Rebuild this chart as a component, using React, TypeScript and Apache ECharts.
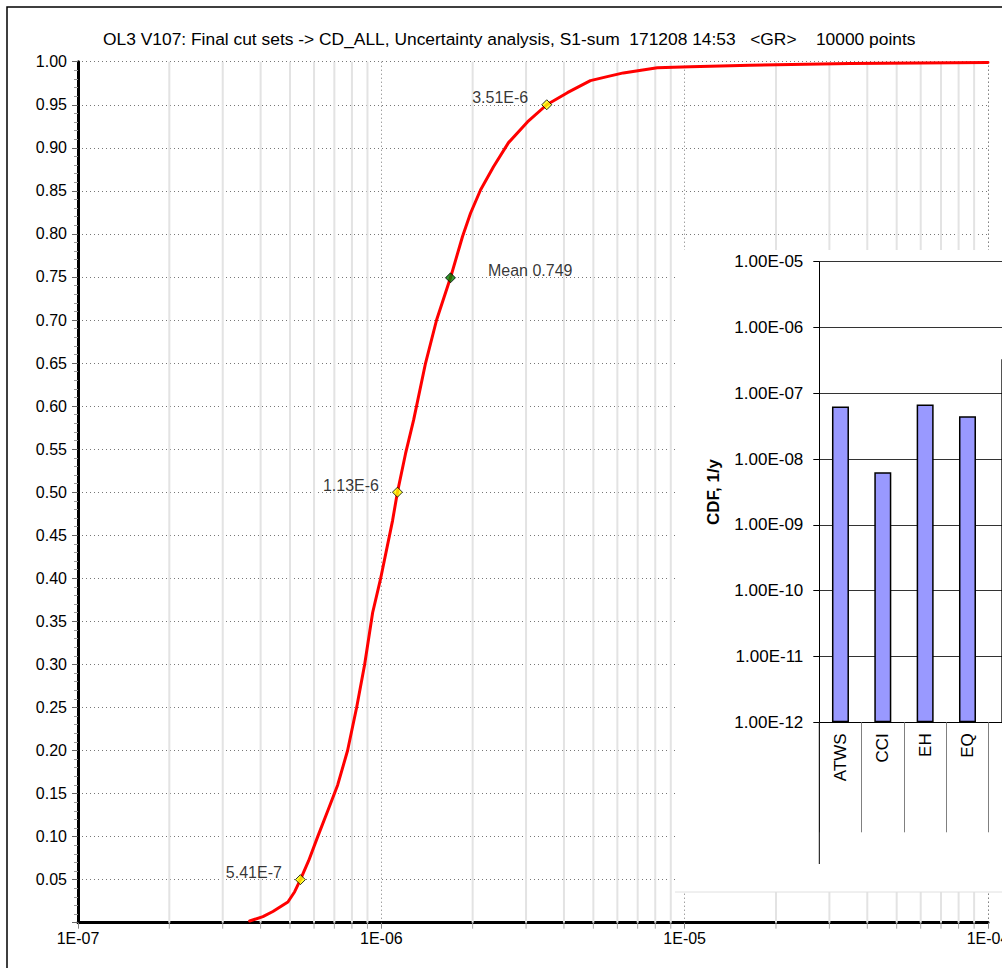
import React, { useEffect, useRef } from 'react';
import * as echarts from 'echarts';

// ---- Data ----
const titleText = 'OL3 V107: Final cut sets -> CD_ALL, Uncertainty analysis, S1-sum  171208 14:53   <GR>    10000 points';

const cdfX = [3.68e-7, 4.07e-7, 4.39e-7, 4.92e-7, 5.18e-7, 5.41e-7, 5.76e-7, 6.17e-7, 6.66e-7, 7.18e-7, 7.74e-7, 8.29e-7, 8.81e-7, 9.36e-7, 9.95e-7, 1.089e-6, 1.13e-6, 1.202e-6, 1.278e-6, 1.399e-6, 1.521e-6, 1.69e-6, 1.852e-6, 1.968e-6, 2.123e-6, 2.343e-6, 2.626e-6, 3.032e-6, 3.51e-6, 4.106e-6, 4.889e-6, 5.6e-6, 6.279e-6, 8.125e-6, 1.043e-5, 1.644e-5, 3.511e-5, 1e-4];
const cdfY = [0.002, 0.007, 0.013, 0.024, 0.036, 0.05, 0.072, 0.10, 0.13, 0.16, 0.20, 0.25, 0.30, 0.36, 0.40, 0.467, 0.50, 0.545, 0.584, 0.65, 0.70, 0.749, 0.797, 0.824, 0.851, 0.878, 0.906, 0.930, 0.95, 0.964, 0.978, 0.983, 0.987, 0.993, 0.994, 0.996, 0.998, 0.999];

const pctX = [5.41e-7, 1.13e-6, 3.51e-6];
const pctY = [0.05, 0.5, 0.95];
const pctLabels = ['5.41E-7', '1.13E-6', '3.51E-6'];
const meanX = 1.69e-6;
const meanY = 0.749;
const meanLabel = 'Mean 0.749';

const mainXTickLabels = ['1E-07', '1E-06', '1E-05', '1E-04'];
const mainXDecades = [-7, -6, -5];
const minorMultipliers = [2, 3, 4, 5, 6, 7, 8, 9];

const insetCats = ['ATWS', 'CCI', 'EH', 'EQ', 'FIRE'];
const insetVals = [6.3e-8, 6.3e-9, 6.75e-8, 4.46e-8, 3.3e-7];
const insetYTickLabels = ['1.00E-12', '1.00E-11', '1.00E-10', '1.00E-09', '1.00E-08', '1.00E-07', '1.00E-06', '1.00E-05'];

const FONT = 'Liberation Sans, Arial, sans-serif';
const CHART_W = 1040; // wider than the 1002 viewport so the inset is cut at the right edge
const CHART_H = 968;

const minorX: number[] = [];
mainXDecades.forEach((d) => minorMultipliers.forEach((k) => minorX.push(k * Math.pow(10, d))));

const dotted = [1, 3];

const option: any = {
  animation: false,
  backgroundColor: '#fff',
  textStyle: { fontFamily: FONT },
  title: {
    text: titleText,
    left: 98,
    top: 25,
    textStyle: { fontSize: 17.4, fontWeight: 'normal', color: '#000', fontFamily: FONT },
  },
  grid: [
    { left: 78, right: CHART_W - 988, top: 61.7, bottom: 45.3 },
    { left: 819.3, right: CHART_W - 1031, top: 261.7, bottom: 245.7, z: 10 },
  ],
  xAxis: [
    {
      type: 'log',
      gridIndex: 0,
      logBase: 10,
      min: 1e-7,
      max: 1e-4,
      axisLine: { show: true, onZero: false, lineStyle: { color: '#000', width: 3 } },
      axisTick: { show: true, length: 6, lineStyle: { color: '#888' } },
      axisLabel: {
        fontSize: 16,
        color: '#000',
        margin: 8,
        showMaxLabel: true,
        fontFamily: FONT,
        formatter: (v: number) => mainXTickLabels[Math.round(Math.log10(v)) + 7] || '',
      },
      splitLine: { show: true, lineStyle: { color: '#777', width: 1, type: dotted } },
    },
    {
      type: 'category',
      gridIndex: 1,
      data: insetCats,
      z: 10,
      axisLine: { show: true, onZero: false, lineStyle: { color: '#000', width: 1 } },
      axisTick: { show: true, interval: 0, length: 110, lineStyle: { color: '#808080' } },
      axisLabel: { interval: 0, rotate: 90, fontSize: 17, color: '#000', margin: 11, fontFamily: FONT },
      splitLine: { show: false },
    },
  ],
  yAxis: [
    {
      type: 'value',
      gridIndex: 0,
      min: 0,
      max: 1,
      interval: 0.05,
      axisLine: { show: true, onZero: false, lineStyle: { color: '#000', width: 3 } },
      axisTick: { show: true, length: 6, lineStyle: { color: '#666' } },
      minorTick: { show: true, splitNumber: 5, length: 4, lineStyle: { color: '#999' } },
      axisLabel: {
        fontSize: 16,
        color: '#000',
        margin: 11,
        fontFamily: FONT,
        formatter: (v: number) => (v < 0.001 ? '' : v.toFixed(2)),
      },
      splitLine: { show: true, lineStyle: { color: '#777', width: 1, type: dotted } },
    },
    {
      type: 'log',
      gridIndex: 1,
      logBase: 10,
      min: 1e-12,
      max: 1e-5,
      startValue: 1e-12,
      z: 10,
      name: 'CDF, 1/y',
      nameLocation: 'middle',
      nameGap: 97,
      nameTextStyle: { fontSize: 17, fontWeight: 'bold', color: '#000', fontFamily: FONT },
      axisLine: { show: true, onZero: false, lineStyle: { color: '#000', width: 1 } },
      axisTick: { show: true, length: 6, lineStyle: { color: '#000' } },
      axisLabel: {
        fontSize: 17,
        color: '#000',
        margin: 16,
        fontFamily: FONT,
        formatter: (v: number) => insetYTickLabels[Math.round(Math.log10(v)) + 12] || '',
      },
      splitLine: { show: true, lineStyle: { color: '#333', width: 1 } },
    },
  ],
  series: [
    {
      type: 'custom',
      name: 'minorGrid',
      xAxisIndex: 0,
      yAxisIndex: 0,
      silent: true,
      clip: false,
      z: 1,
      encode: { x: 0, y: 1 },
      data: minorX.map((v) => [v, 0]),
      renderItem: (_params: any, api: any) => {
        const v = api.value(0);
        const top = api.coord([v, 1]);
        const bot = api.coord([v, 0]);
        return {
          type: 'group',
          children: [
            {
              type: 'line',
              shape: { x1: top[0], y1: top[1], x2: bot[0], y2: bot[1] },
              style: { stroke: '#e3e3e3', lineWidth: 2 },
            },
            {
              type: 'line',
              shape: { x1: bot[0], y1: bot[1], x2: bot[0], y2: bot[1] + 6 },
              style: { stroke: '#aaa', lineWidth: 1 },
            },
          ],
        };
      },
    },
    {
      type: 'line',
      name: 'CDF',
      xAxisIndex: 0,
      yAxisIndex: 0,
      data: cdfX.map((x, i) => [x, cdfY[i]]),
      showSymbol: false,
      smooth: false,
      lineStyle: { color: '#ff0000', width: 3, join: 'round', cap: 'round' },
      z: 3,
    },
    {
      type: 'scatter',
      name: 'markers',
      xAxisIndex: 0,
      yAxisIndex: 0,
      symbol: 'diamond',
      symbolSize: 10,
      z: 4,
      itemStyle: { color: '#ffff00', borderColor: '#000', borderWidth: 1 },
      label: {
        show: true,
        position: 'left',
        distance: 13,
        offset: [0, -7],
        fontSize: 16,
        color: '#000',
        fontFamily: FONT,
        formatter: (p: any) => p.data.labelText,
      },
      data: [
        ...pctX.map((x, i) => ({ value: [x, pctY[i]], labelText: pctLabels[i] })),
        {
          value: [meanX, meanY],
          labelText: meanLabel,
          itemStyle: { color: '#008000', borderColor: '#000', borderWidth: 1 },
          label: { position: 'right', distance: 32 },
        },
      ],
    },
    {
      type: 'bar',
      name: 'contributions',
      xAxisIndex: 1,
      yAxisIndex: 1,
      z: 10,
      barWidth: 17,
      itemStyle: { color: '#9999ff', borderColor: '#000', borderWidth: 1.5 },
      data: insetVals,
    },
  ],
  graphic: [
    {
      type: 'rect',
      z: 0,
      silent: true,
      shape: { x: 7, y: 7, width: 1200, height: 1200 },
      style: { fill: 'none', stroke: '#000', lineWidth: 1.5 },
    },
    {
      type: 'rect',
      z: 5,
      silent: true,
      shape: { x: 675, y: 250, width: 400, height: 642 },
      style: { fill: '#fff' },
    },
    {
      type: 'line',
      z: 5,
      silent: true,
      shape: { x1: 675, y1: 892, x2: CHART_W, y2: 892 },
      style: { stroke: '#e0e0e0', lineWidth: 1 },
    },
    {
      type: 'line',
      z: 11,
      silent: true,
      shape: { x1: 819.3, y1: 722, x2: 819.3, y2: 864 },
      style: { stroke: '#000', lineWidth: 1 },
    },
  ],
};

export default function App() {
  const ref = useRef<HTMLDivElement>(null);
  useEffect(() => {
    if (!ref.current) return;
    const chart = echarts.init(ref.current, undefined, { renderer: 'svg' });
    chart.setOption(option);
    return () => chart.dispose();
  }, []);
  return (
    <div
      style={{ position: 'absolute', left: 0, top: 0, width: 1002, height: CHART_H, overflow: 'hidden', background: '#fff' }}
    >
      <div ref={ref} style={{ width: CHART_W, height: CHART_H }} />
    </div>
  );
}
